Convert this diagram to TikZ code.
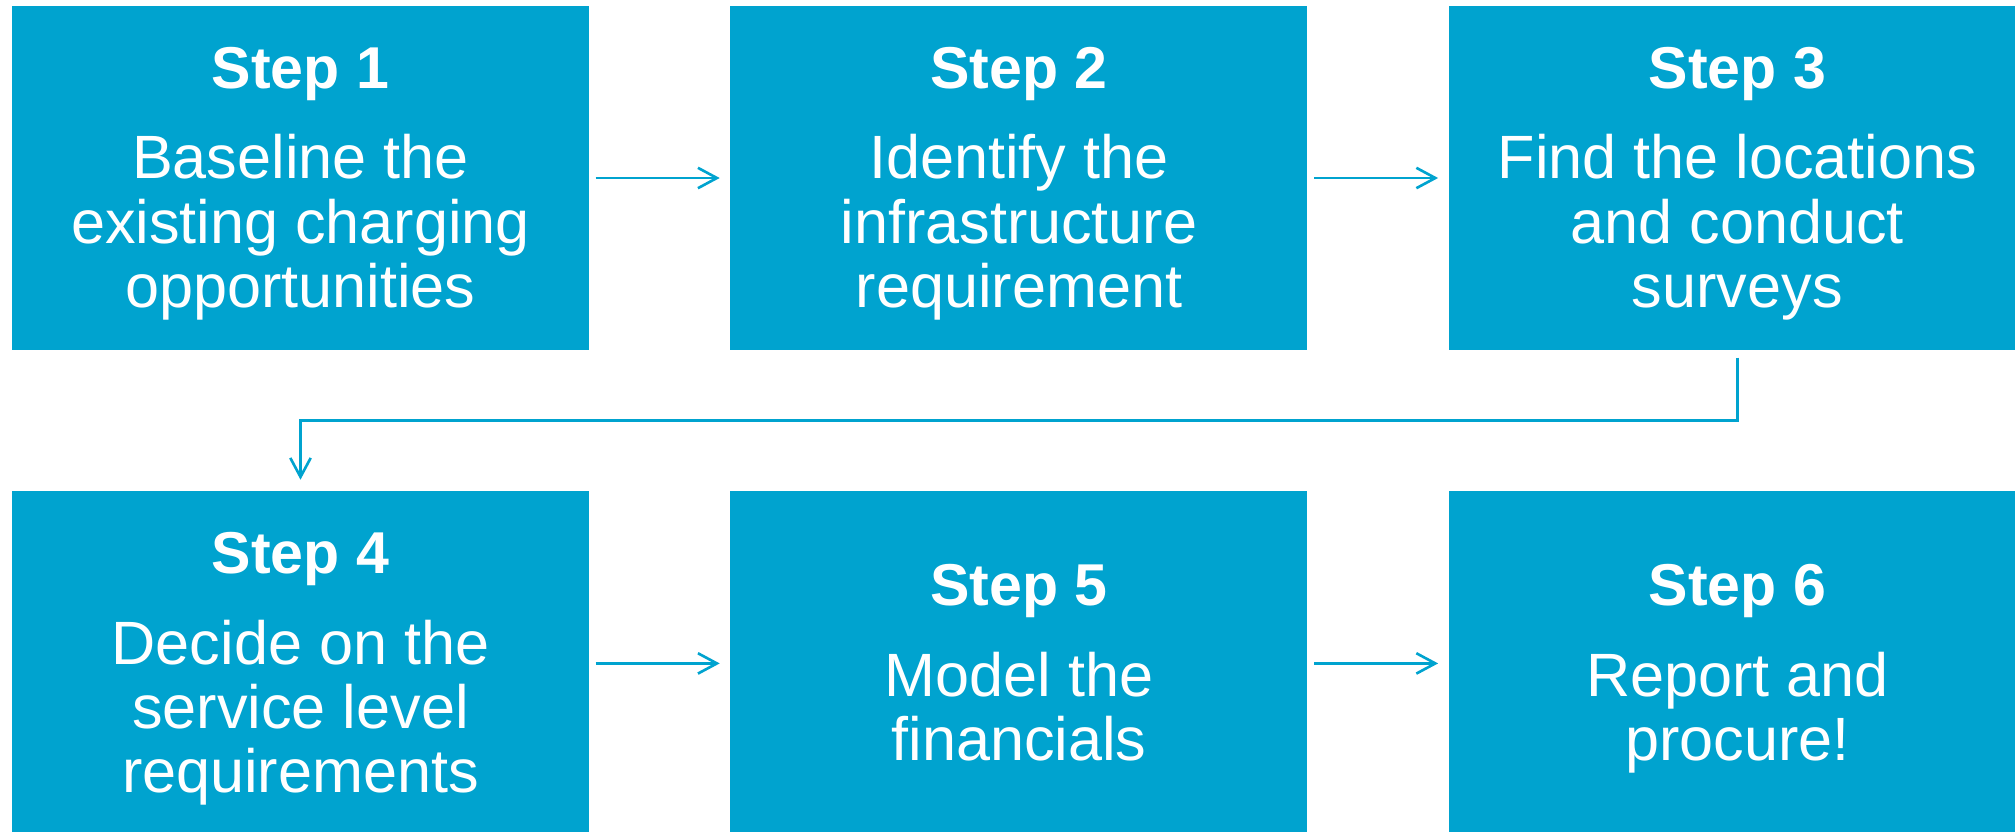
\documentclass[tikz,border=0pt]{standalone}
\usepackage{fontspec}
\setmainfont{Liberation Sans}
\usetikzlibrary{arrows.meta, positioning}

\definecolor{stepblue}{RGB}{0,163,207}

% title line of a box, with fixed line metrics at top and bottom
\newcommand{\steptitle}[1]{\rule{0pt}{15.5pt}{\fontsize{16.8}{18.3}\selectfont\bfseries Step #1}}
\newcommand{\stepend}{\rule[-4.2pt]{0pt}{4.2pt}}

\begin{document}
\begin{tikzpicture}[stepbox/.style={
                rectangle,
                fill=stepblue,
                text=white,
                align=center,
                inner sep=0pt,
                minimum width=5.77cm,
                minimum height=3.44cm,
                font=\fontsize{17.4}{18.3}\selectfont,
                },
                node distance=1.4cm,
                >={Straight Barb[length=5.4pt,width=5.8pt]},
                flow/.style={
                    draw=stepblue,
                    line width=0.75pt,
                    ->
                }]

            \clip (0,0) rectangle (20.15,-8.31);

            \node[stepbox] (b1) at (3.005,-1.78) {\steptitle{1}\\[7.4pt]Baseline the\\existing charging\\opportunities\stepend};
            \node[stepbox, right=of b1] (b2) {\steptitle{2}\\[7.4pt]Identify the\\infrastructure\\requirement\stepend};
            \node[stepbox, right=of b2] (b3) {\steptitle{3}\\[7.4pt]Find the locations\\and conduct\\surveys\stepend};
            \node[stepbox, below=of b1] (b4) {\steptitle{4}\\[7.4pt]Decide on the\\service level\\requirements\stepend};
            \node[stepbox, right=of b4] (b5) {\steptitle{5}\\[7.4pt]Model the\\financials\stepend};
            \node[stepbox, right=of b5] (b6) {\steptitle{6}\\[7.4pt]Report and\\procure!\stepend};

            % row arrows
            \draw[flow, shorten <=0.6mm, shorten >=1mm] (b1) -- (b2);
            \draw[flow, shorten <=0.6mm, shorten >=1mm] (b2) -- (b3);
            \draw[flow, shorten <=0.6mm, shorten >=1mm] (b4) -- (b5);
            \draw[flow, shorten <=0.6mm, shorten >=1mm] (b5) -- (b6);

            % back to the start of the second row
            \draw[flow, shorten <=0.7mm, shorten >=1.1mm] (b3.south) -- ++(0,-0.7) -| (b4.north);

        \end{tikzpicture}
\end{document}
